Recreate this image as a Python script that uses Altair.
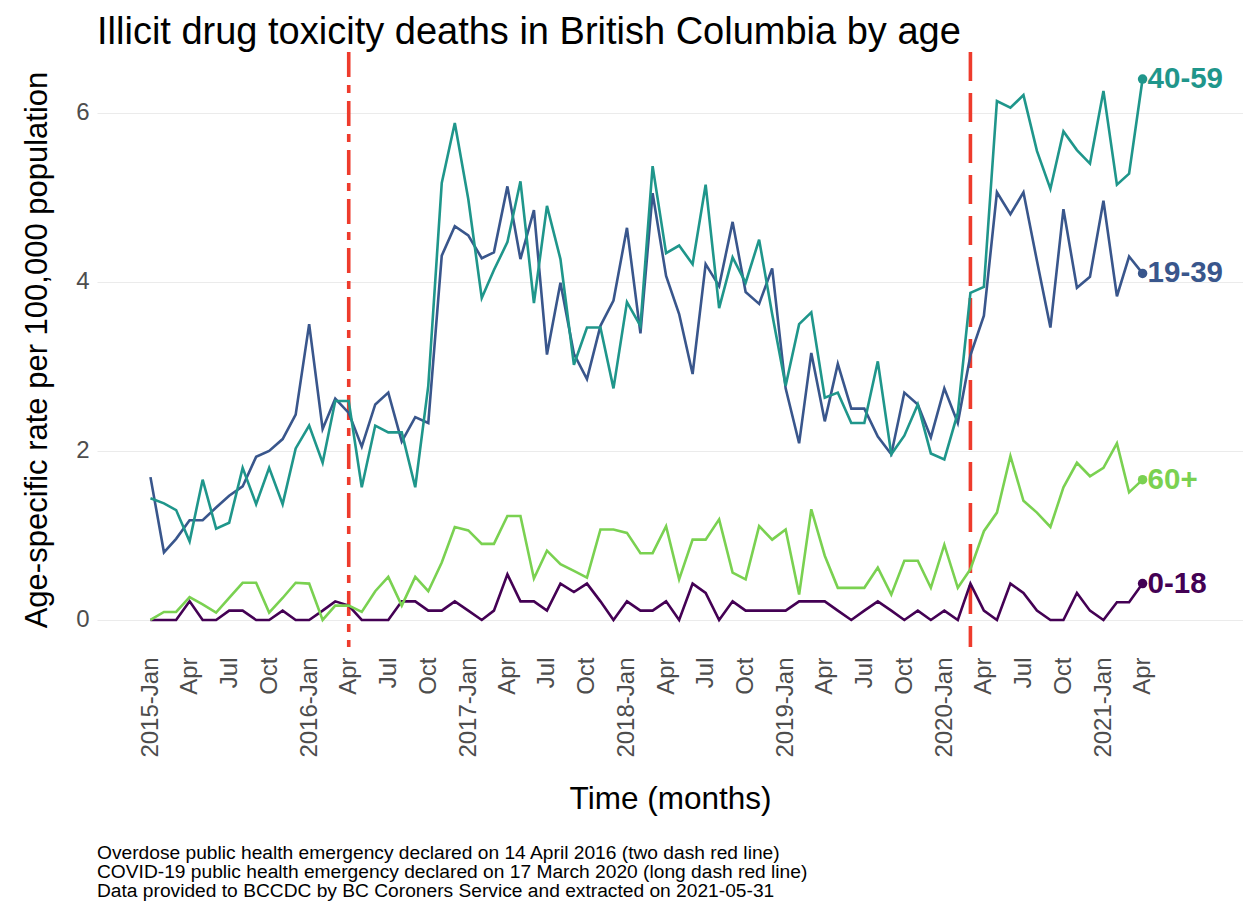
import altair as alt
import pandas as pd

# ---------------- data ----------------
first_month = "2015-01-01"
last_month = "2021-04-01"
age_groups = ["0-18", "19-39", "40-59", "60+"]
colors = ["#440154", "#39568C", "#1F968B", "#7AD151"]

rate_0_18 = [0, 0, 0, 0.22, 0, 0, 0.11, 0.11, 0, 0, 0.11, 0, 0, 0.11, 0.22, 0.17,
             0, 0, 0, 0.22, 0.22, 0.11, 0.11, 0.22, 0.11, 0, 0.11, 0.54, 0.22, 0.22,
             0.11, 0.43, 0.33, 0.43, 0.22, 0, 0.22, 0.11, 0.11, 0.22, 0, 0.43, 0.32,
             0, 0.22, 0.11, 0.11, 0.11, 0.11, 0.22, 0.22, 0.22, 0.11, 0, 0.11, 0.22,
             0.11, 0, 0.11, 0, 0.11, 0, 0.43, 0.11, 0, 0.43, 0.32, 0.11, 0, 0, 0.32,
             0.11, 0, 0.21, 0.21, 0.43]
rate_19_39 = [1.69, 0.80, 0.96, 1.18, 1.18, 1.33, 1.47, 1.58, 1.93, 2.00, 2.14, 2.43,
              3.50, 2.26, 2.62, 2.45, 2.05, 2.55, 2.69, 2.11, 2.40, 2.33, 4.31, 4.66,
              4.55, 4.28, 4.35, 5.13, 4.27, 4.85, 3.14, 3.99, 3.15, 2.85, 3.48, 3.78,
              4.64, 3.39, 5.05, 4.07, 3.62, 2.91, 4.21, 3.95, 4.71, 3.88, 3.74, 4.16,
              2.74, 2.09, 3.16, 2.35, 3.03, 2.50, 2.50, 2.17, 1.96, 2.69, 2.55, 2.16,
              2.74, 2.33, 3.13, 3.60, 5.06, 4.80, 5.06, 4.25, 3.46, 4.86, 3.93, 4.06,
              4.96, 3.83, 4.30, 4.10]
rate_40_59 = [1.44, 1.38, 1.30, 0.93, 1.66, 1.08, 1.15, 1.80, 1.37, 1.80, 1.37, 2.03,
              2.30, 1.86, 2.59, 2.59, 1.57, 2.30, 2.22, 2.22, 1.57, 2.77, 5.17, 5.88,
              4.98, 3.81, 4.14, 4.47, 5.19, 3.75, 4.90, 4.27, 3.02, 3.46, 3.46, 2.74,
              3.76, 3.48, 5.37, 4.34, 4.43, 4.21, 5.15, 3.69, 4.29, 3.99, 4.50, 3.62,
              2.77, 3.50, 3.64, 2.63, 2.69, 2.33, 2.33, 3.06, 1.96, 2.18, 2.55, 1.97,
              1.90, 2.45, 3.87, 3.94, 6.14, 6.06, 6.21, 5.55, 5.10, 5.78, 5.56, 5.40,
              6.26, 5.15, 5.28, 6.40]
rate_60_plus = [0, 0.095, 0.095, 0.27, 0.185, 0.087, 0.26, 0.44, 0.44, 0.087, 0.26, 0.44,
                0.43, 0, 0.17, 0.17, 0.095, 0.34, 0.51, 0.17, 0.51, 0.34, 0.68, 1.10,
                1.06, 0.90, 0.90, 1.23, 1.23, 0.49, 0.82, 0.66, 0.58, 0.50, 1.07, 1.07,
                1.03, 0.79, 0.79, 1.11, 0.48, 0.95, 0.95, 1.19, 0.56, 0.48, 1.11, 0.95,
                1.07, 0.30, 1.31, 0.76, 0.38, 0.38, 0.38, 0.62, 0.30, 0.70, 0.70, 0.38,
                0.89, 0.38, 0.60, 1.05, 1.27, 1.94, 1.41, 1.27, 1.10, 1.57, 1.86, 1.70,
                1.80, 2.09, 1.51, 1.66]

emergency_dates = ["2016-04-01T00:00:00", "2020-03-01T00:00:00"]
emergency_dash = [[25, 8, 8, 8], [29, 12]]

footnotes = [
    "Overdose public health emergency declared on 14 April 2016 (two dash red line)",
    "COVID-19 public health emergency declared on 17 March 2020 (long dash red line)",
    "Data provided to BCCDC by BC Coroners Service and extracted on 2021-05-31",
]

# ---------------- tables ----------------
months = pd.date_range(first_month, last_month, freq="MS")
dates = [d.strftime("%Y-%m-%dT00:00:00") for d in months]
series = [rate_0_18, rate_19_39, rate_40_59, rate_60_plus]
rows = []
for g, vals in zip(age_groups, series):
    for d, v in zip(dates, vals):
        rows.append({"date": d, "age": g, "rate": v})
df = pd.DataFrame(rows)
last = pd.DataFrame({"date": [dates[-1]] * 4, "age": age_groups,
                     "rate": [s[-1] for s in series]})

tick_values = [alt.DateTime(year=d.year, month=d.month, date=1)
               for d in months if d.month in (1, 4, 7, 10)]

FONT = "Liberation Sans"
W, H = 1146, 595

xscale = alt.Scale(domain=[alt.DateTime(year=2014, month=8, date=31),
                           alt.DateTime(year=2021, month=11, date=18)])
yscale = alt.Scale(domain=[-0.32, 6.72], nice=False, zero=False)
cscale = alt.Scale(domain=age_groups, range=colors)

x_enc = alt.X("date:T", scale=xscale,
              axis=alt.Axis(values=tick_values,
                            labelExpr="month(datum.value) == 0 ? timeFormat(datum.value, '%Y-%b') : timeFormat(datum.value, '%b')",
                            labelAngle=270, labelAlign="right", labelBaseline="middle",
                            labelFontSize=24, labelColor="#4d4d4d", labelPadding=10,
                            labelOverlap=False, labelFlush=False,
                            grid=False, domain=False, ticks=False,
                            title="Time (months)", titleFontSize=31.5, titleColor="black",
                            titleFontWeight="normal", titlePadding=26))
y_enc = alt.Y("rate:Q", scale=yscale,
              axis=alt.Axis(values=[0, 2, 4, 6], format="d", grid=True, gridColor="#ebebeb",
                            gridWidth=1.2, domain=False, ticks=False,
                            labelFontSize=24, labelColor="#4d4d4d", labelPadding=8,
                            title="Age-specific rate per 100,000 population",
                            titleFontSize=31, titleColor="black", titleFontWeight="normal",
                            titlePadding=22))
c_enc = alt.Color("age:N", scale=cscale, legend=None)

lines = alt.Chart(df).mark_line(strokeWidth=2.6).encode(x=x_enc, y=y_enc, color=c_enc)

rules = []
for d, dash in zip(emergency_dates, emergency_dash):
    rules.append(alt.Chart(pd.DataFrame({"date": [d]})).mark_rule(
        color="#EE3B2C", strokeWidth=3.6, strokeDash=dash).encode(x=alt.X("date:T", scale=xscale)))

points = alt.Chart(last).mark_point(filled=True, size=90, opacity=1).encode(
    x=alt.X("date:T", scale=xscale), y=alt.Y("rate:Q", scale=yscale), color=c_enc)
labels = alt.Chart(last).mark_text(align="left", baseline="middle", dx=5, fontSize=29.5,
                                   fontWeight="bold", font=FONT).encode(
    x=alt.X("date:T", scale=xscale), y=alt.Y("rate:Q", scale=yscale), color=c_enc,
    text="age:N")

notes = []
for k, t in enumerate(footnotes):
    notes.append(alt.Chart(pd.DataFrame({"t": [t]})).mark_text(
        align="left", baseline="middle", fontSize=19.2, font=FONT, color="black").encode(
        x=alt.value(0), y=alt.value(800.5 + 19 * k), text="t:N"))

chart = alt.layer(*rules, lines, points, labels, *notes).properties(
    width=W, height=H,
    autosize=alt.AutoSizeParams(type="none"),
    padding={"left": 89, "top": 44, "right": 0, "bottom": 254},
    title=alt.TitleParams("Illicit drug toxicity deaths in British Columbia by age",
                          anchor="start", frame="group", fontSize=38, fontWeight="normal",
                          font=FONT, color="black", offset=-2),
).configure(font=FONT).configure_view(stroke=None)

chart.save("out.html", embed_options={"renderer": "svg", "actions": False})
